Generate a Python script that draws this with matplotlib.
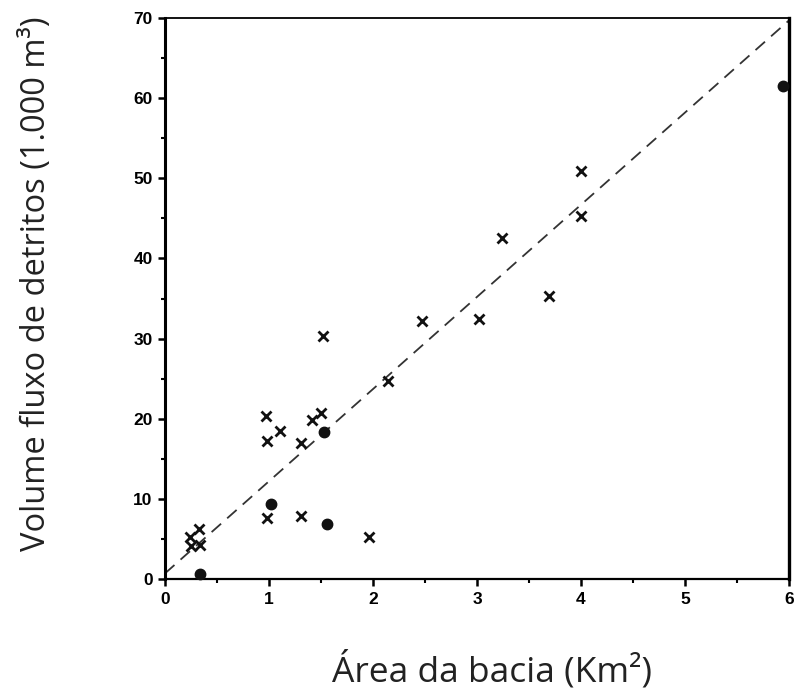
import matplotlib
matplotlib.use("Agg")
import matplotlib.pyplot as plt
from matplotlib.ticker import MultipleLocator

# Debris-flow volume vs basin area (scanned figure)
cross_x = [4.00, 4.00, 3.24, 3.69, 3.02, 2.47, 1.52, 2.14, 0.97, 1.50, 1.41,
           1.11, 0.98, 1.31, 0.98, 1.31, 1.96, 0.33, 0.24, 0.34, 0.25]
cross_y = [50.9, 45.3, 42.5, 35.3, 32.4, 32.2, 30.3, 24.7, 20.3, 20.7, 19.8,
           18.5, 17.2, 17.0, 7.6, 7.8, 5.2, 6.2, 5.2, 4.2, 4.1]

dot_x = [1.53, 1.02, 1.56, 0.34, 5.94]
dot_y = [18.4, 9.3, 6.9, 0.6, 61.5]

# dashed fit line
line_x = [0.0, 6.0]
line_y = [0.7, 69.7]

x_ticks = [0, 1, 2, 3, 4, 5, 6]
y_ticks = [0, 10, 20, 30, 40, 50, 60, 70]

W, H = 798, 691
fig = plt.figure(figsize=(W / 100, H / 100), dpi=100)
# right edge pulled in a few px so the "6" tick label is not clipped
ax = fig.add_axes([165 / W, (H - 579) / H, 624 / W, 561 / H])

ax.plot(line_x, line_y, color="#333333", lw=1.3, dashes=(7, 4.5), zorder=2)
ax.plot(cross_x, cross_y, "x", color="#111111", ms=7.5, mew=2.0, zorder=3)
ax.plot(dot_x, dot_y, "o", color="#111111", ms=7.5, zorder=3, clip_on=False)

ax.set_xlim(0, 6)
ax.set_ylim(0, 70)
ax.set_xticks(x_ticks)
ax.set_yticks(y_ticks)
ax.xaxis.set_minor_locator(MultipleLocator(0.5))
ax.yaxis.set_minor_locator(MultipleLocator(5))
ax.tick_params(which="major", direction="out", length=5, width=1.8, pad=4)
ax.tick_params(which="minor", direction="out", length=3, width=1.5)

for lab in ax.get_xticklabels() + ax.get_yticklabels():
    lab.set_fontfamily("Liberation Sans")
    lab.set_fontweight("bold")
    lab.set_fontsize(12.5)

ax.spines["left"].set_linewidth(2.2)
ax.spines["right"].set_linewidth(2.4)
ax.spines["top"].set_linewidth(1.3)
ax.spines["bottom"].set_linewidth(1.6)

fig.text(37 / W, 1 - 284 / H, "Volume fluxo de detritos (1.000 m³)",
         rotation=90, ha="center", va="center", fontsize=23.5,
         family="Open Sans", color="#222222")
fig.text(492 / W, 1 - 670 / H, "Área da bacia (Km²)",
         ha="center", va="center", fontsize=25.5,
         family="Open Sans", color="#222222")

fig.savefig("out.png", dpi=100)
